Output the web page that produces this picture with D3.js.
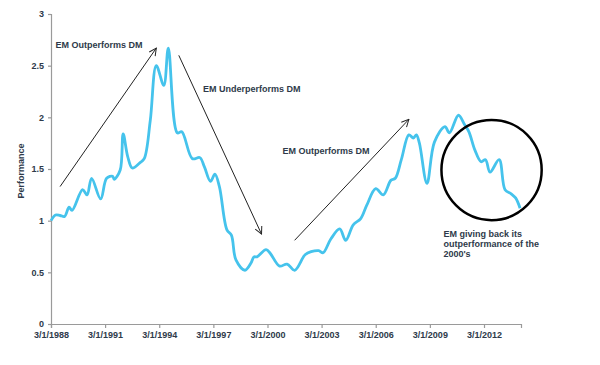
<!DOCTYPE html>
<html><head><meta charset="utf-8">
<script src="https://cdn.jsdelivr.net/npm/d3@7"></script>
<style>body{margin:0;background:#fff}svg{display:block}</style>
</head><body>
<svg id="chart" width="600" height="365"></svg>
<script>
const dates = ["1988-03","1988-06","1988-09","1988-12","1989-03","1989-05","1989-12","1990-03","1990-06","1990-12",
"1991-04","1991-08","1991-09","1992-01","1992-03","1992-06","1992-09","1993-02","1993-05","1993-09",
"1994-01","1994-06","1994-09","1995-03","1995-06","1996-01","1996-06","1996-09","1997-01","1997-04",
"1997-07","1997-12","1998-03","1998-06","1998-12","1999-04","1999-06","1999-08","2000-02","2000-05",
"2000-11","2001-04","2001-09","2002-04","2002-08","2003-01","2003-04","2003-09","2004-03","2004-07",
"2004-12","2005-05","2005-09","2006-03","2006-08","2007-01","2007-04","2007-08","2008-01","2008-04",
"2008-06","2008-08","2009-01","2009-06","2010-01","2010-04","2010-10","2011-02","2011-05","2011-09",
"2012-01","2012-04","2012-07","2013-01","2013-05","2013-09","2013-12","2014-03"];
const performance = [1.00,1.055,1.05,1.04,1.13,1.10,1.30,1.25,1.41,1.21,
1.41,1.43,1.40,1.49,1.84,1.62,1.51,1.56,1.60,1.97,
2.50,2.31,2.67,1.85,1.86,1.60,1.61,1.52,1.38,1.45,
1.33,0.91,0.86,0.62,0.52,0.59,0.65,0.65,0.72,0.68,
0.56,0.58,0.52,0.67,0.70,0.71,0.69,0.82,0.92,0.81,
0.96,1.02,1.15,1.31,1.25,1.39,1.41,1.59,1.83,1.80,
1.83,1.75,1.36,1.76,1.91,1.85,2.02,1.93,1.86,1.68,
1.57,1.59,1.47,1.59,1.30,1.26,1.22,1.12];
const yTicks = [0,0.5,1,1.5,2,2.5,3];
const xTickYears = [1988,1991,1994,1997,2000,2003,2006,2009,2012];
const annotations = [
  {lines:["EM Outperforms DM"], d:"1988-06", v:2.67},
  {lines:["EM Underperforms DM"], d:"1996-08", v:2.245},
  {lines:["EM Outperforms DM"], d:"2001-01", v:1.645},
  {lines:["EM giving back its","outperformance of the","2000's"], d:"2009-12", v:0.84}
];
const arrows = [
  {from:["1988-09",1.33], to:["1994-01",2.67]},
  {from:["1995-04",2.6], to:["1999-11",0.87]},
  {from:["2001-09",0.81], to:["2008-01",1.98]}
];
const circle = {d:"2012-08", v:1.49, r:0.485};

const parse = d3.timeParse("%Y-%m");
const data = dates.map((d,i)=>({date:parse(d), v:performance[i]}));

const svg = d3.select("#chart");
const margin = {left:51, top:14, right:79, bottom:41};
const W = 600, H = 365;
const x = d3.scaleTime().domain([new Date(1988,2,1), new Date(2014,2,20)]).range([margin.left, W-margin.right]);
const y = d3.scaleLinear().domain([0,3]).range([H-margin.bottom, margin.top]);

const font = "'Liberation Sans', Arial, sans-serif";
const textCol = "#2e3a4a";

// axes
const yAxis = svg.append("g").attr("transform",`translate(${margin.left},0)`)
  .call(d3.axisLeft(y).tickValues(yTicks).tickSize(3).tickPadding(4).tickFormat(d3.format("")));
const xAxis = svg.append("g").attr("transform",`translate(0,${y(0)})`)
  .call(d3.axisBottom(x).tickValues(xTickYears.map(yr=>new Date(yr,2,1))).tickSize(4).tickPadding(4)
    .tickFormat(d=>`${d.getMonth()+1}/${d.getDate()}/${d.getFullYear()}`));
[yAxis,xAxis].forEach(g=>{
  g.selectAll("path,line").attr("stroke","#9a9a9a").attr("stroke-width",1.2);
  g.selectAll("text").attr("font-family",font).attr("font-size",9).attr("font-weight","bold").attr("fill",textCol);
});

svg.append("text").attr("transform",`translate(24,${(y(0)+y(3))/2+2}) rotate(-90)`)
  .attr("text-anchor","middle").attr("font-family",font).attr("font-size",9).attr("font-weight","bold")
  .attr("fill",textCol).text("Performance");

// line
const line = d3.line().x(d=>x(d.date)).y(d=>y(d.v)).curve(d3.curveCatmullRom.alpha(0.5));
svg.append("path").datum(data).attr("d",line).attr("fill","none")
  .attr("stroke","#45c3ec").attr("stroke-width",2.8).attr("stroke-linejoin","round");

// arrows
svg.append("defs").append("marker").attr("id","arr").attr("viewBox","0 0 10 10")
  .attr("refX",9).attr("refY",5).attr("markerWidth",9).attr("markerHeight",9)
  .attr("markerUnits","userSpaceOnUse").attr("orient","auto")
  .append("path").attr("d","M1,1 L9,5 L1,9").attr("fill","none").attr("stroke","#222").attr("stroke-width",1.1);
arrows.forEach(a=>{
  svg.append("line")
    .attr("x1",x(parse(a.from[0]))).attr("y1",y(a.from[1]))
    .attr("x2",x(parse(a.to[0]))).attr("y2",y(a.to[1]))
    .attr("stroke","#222").attr("stroke-width",1).attr("marker-end","url(#arr)");
});

// circle
svg.append("circle").attr("cx",x(parse(circle.d))).attr("cy",y(circle.v))
  .attr("r",y(0)-y(circle.r)).attr("fill","none").attr("stroke","#000").attr("stroke-width",2.5);

// annotations
annotations.forEach(a=>{
  const t = svg.append("text").attr("x",x(parse(a.d))).attr("y",y(a.v))
    .attr("font-family",font).attr("font-size",9).attr("font-weight","bold").attr("fill",textCol);
  a.lines.forEach((l,i)=>t.append("tspan").attr("x",x(parse(a.d))).attr("dy",i?10:0).text(l));
});
</script>
</body></html>
